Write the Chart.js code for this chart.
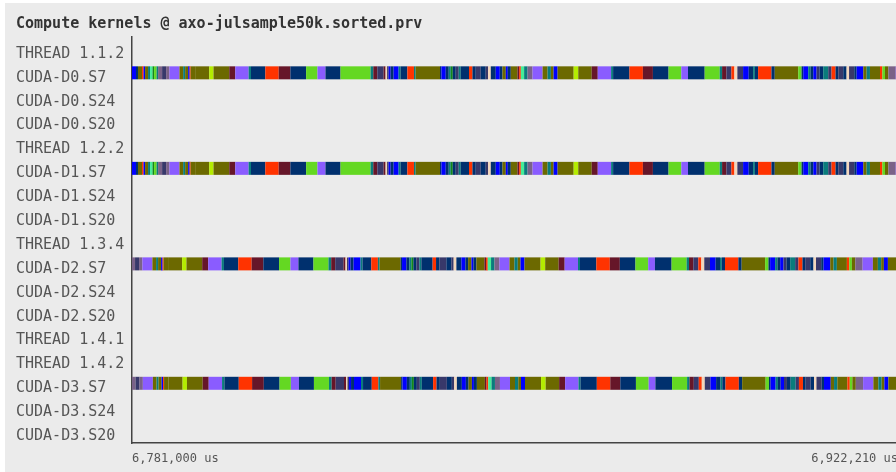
<!DOCTYPE html>
<html>
<head>
<meta charset="utf-8">
<title>Compute kernels timeline</title>
<script src="https://cdn.jsdelivr.net/npm/chart.js@4.4.1/dist/chart.umd.min.js"></script>
<style>
  html, body { margin: 0; padding: 0; overflow: hidden; background: #ffffff; }
  #wrap { width: 898px; height: 472px; }
</style>
</head>
<body>
<div id="wrap"><canvas id="kernelTimeline" width="898" height="472"></canvas></div>
<script>
// rows of the trace window (top to bottom)
const rowLabels = [
  'THREAD 1.1.2', 'CUDA-D0.S7', 'CUDA-D0.S24', 'CUDA-D0.S20',
  'THREAD 1.2.2', 'CUDA-D1.S7', 'CUDA-D1.S24', 'CUDA-D1.S20',
  'THREAD 1.3.4', 'CUDA-D2.S7', 'CUDA-D2.S24', 'CUDA-D2.S20',
  'THREAD 1.4.1', 'THREAD 1.4.2', 'CUDA-D3.S7', 'CUDA-D3.S24', 'CUDA-D3.S20'
];

// visible time window (us)
const timeMin = 6781000;
const timeMax = 6922210;

// kernel executed in each consecutive burst on the S7 streams
const kernelSeq = [
  'B','N','O','R','B','O','T','C','D','G','T','Q','S','Q','P','O','T','O','B','R',
  'O','O','L','O','M','P','T','N','R','M','N','G','P','N','G','T','M','S','M','W',
  'S','B','N','B','T','N','R','T','O','N','B','N','T','D','N','S','T','N','R','N',
  'S','N','S','W','N','B','N','O','B','N','O','M','R','C','T','Q','P','O','T','O',
  'B','O','L','O','M','P','T','N','R','M','N','G','P','N','G','T','M','S','R','W',
  'S','B','N','T','N','R','N','O','G','N','B','T','N','B','S','N','T','S','R','N',
  'S','N','W','S','N','B','O','T','O','R','G','O','Q','P','O','T','O','B','O'
];

// burst durations (us) on devices 0 and 1
const durationsD0 = [
  740, 370, 740, 280, 280, 550, 370, 460, 280, 460, 280, 740, 740, 610, 1850, 680, 370, 550, 280, 180,
  830, 2590, 800, 2900, 1110, 2460, 440, 2640, 2460, 2160, 2900, 2090, 1480, 2770, 5540, 500, 740, 1160, 370, 280,
  280, 370, 550, 920, 370, 1240, 1220, 310, 4490, 260, 800, 550, 370, 370, 550, 550, 370, 1530, 630, 610,
  920, 920, 430, 500, 920, 740, 500, 610, 370, 550, 1240, 300, 310, 610, 630, 920, 1850, 920, 610, 500,
  740, 2960, 850, 2480, 1110, 2460, 370, 3010, 2480, 1850, 2880, 2350, 1240, 3070, 2770, 440, 800, 920, 550, 550,
  1050, 1040, 810, 330, 590, 2460, 610, 4330, 610, 310, 920, 430, 500, 610, 550, 680, 920, 610, 740, 500,
  920, 610, 460, 960, 430, 1240, 610, 610, 1850, 440, 480, 630, 1350, 1890, 920, 610, 500, 740, 2960
];

// burst durations (us) on devices 2 and 3
const durationsD2 = [
  740, 370, 740, 280, 280, 550, 370, 460, 280, 460, 280, 740, 740, 610, 1850, 680, 370, 550, 280, 180,
  830, 2590, 800, 2900, 1110, 2460, 440, 2640, 2460, 2160, 2900, 2090, 1480, 2770, 2770, 500, 740, 1530, 370, 280,
  280, 370, 550, 1290, 370, 1610, 1220, 310, 3880, 260, 800, 550, 370, 370, 550, 550, 370, 2080, 630, 610,
  1290, 920, 430, 500, 920, 740, 500, 610, 370, 550, 1480, 300, 310, 610, 630, 920, 1850, 920, 610, 500,
  740, 2960, 850, 2480, 1110, 2460, 370, 3010, 2480, 1850, 2880, 2350, 1240, 3070, 2770, 440, 800, 920, 550, 550,
  1050, 1040, 810, 330, 590, 2460, 610, 4330, 610, 310, 920, 430, 500, 610, 550, 680, 920, 610, 740, 500,
  920, 610, 460, 960, 430, 1240, 610, 610, 1850, 440, 480, 630, 1350, 1890, 920, 610, 500, 740, 2960
];

// which rows carry bursts, when their first listed burst starts, and its durations
const traceRows = ['CUDA-D0.S7', 'CUDA-D1.S7', 'CUDA-D2.S7', 'CUDA-D3.S7'];
const traceStarts = [6781000, 6781000, 6776010, 6776100];
const traceDurations = [durationsD0, durationsD0, durationsD2, durationsD2];

const kernelColors = {
  B: '#0000ff', N: '#00306e', O: '#6c6900', P: '#8a5cff', R: '#ff3300',
  M: '#661629', G: '#64d822', L: '#b4ec00', T: '#0a7c7c', S: '#38386a',
  W: '#f2d6bc', D: '#12881a', C: '#44ee99', Q: '#7a6288'
};

const monoFont = 'DejaVu Sans Mono';

const datasets = traceRows.map((row, r) => {
  const durs = traceDurations[r];
  const data = [];
  const colors = [];
  let t = traceStarts[r];
  kernelSeq.forEach((k, i) => {
    data.push({ x: [t, t + durs[i]], y: row });
    colors.push(kernelColors[k]);
    t += durs[i];
  });
  return {
    label: row,
    data: data,
    backgroundColor: colors,
    borderWidth: 0,
    grouped: false,
    maxBarThickness: 13
  };
});

// light grey plot frame with a thin white edge top/left
const frameBackground = {
  id: 'frameBackground',
  beforeDraw(chart) {
    const ctx = chart.ctx;
    ctx.save();
    ctx.fillStyle = '#ffffff';
    ctx.fillRect(0, 0, chart.width, chart.height);
    ctx.fillStyle = '#ebebeb';
    ctx.fillRect(5, 3, chart.width - 5, chart.height - 3);
    ctx.restore();
  }
};

new Chart(document.getElementById('kernelTimeline'), {
  type: 'bar',
  data: {
    labels: rowLabels,
    datasets: datasets
  },
  options: {
    indexAxis: 'y',
    responsive: false,
    animation: false,
    layout: { padding: { left: 16, right: 0, top: 0, bottom: 0 } },
    plugins: {
      legend: { display: false },
      tooltip: { enabled: false },
      title: {
        display: true,
        text: 'Compute kernels @ axo-julsample50k.sorted.prv',
        align: 'start',
        color: '#333333',
        font: { family: monoFont, size: 15, weight: 'bold' },
        padding: { top: 15, bottom: 4 }
      }
    },
    scales: {
      x: {
        type: 'linear',
        min: timeMin,
        max: timeMax,
        z: 1,
        // tick marks are hidden with the grid, but their length spaces the labels
        grid: { display: false, drawTicks: true, tickLength: 9 },
        border: { display: true, color: '#444444', width: 1.5 },
        afterBuildTicks: (scale) => {
          scale.ticks = [{ value: timeMin }, { value: timeMax }];
        },
        afterFit: (scale) => { scale.height = 29; },
        ticks: {
          align: 'inner',
          autoSkip: false,
          maxRotation: 0,
          padding: 0,
          color: '#555555',
          font: { family: monoFont, size: 12 },
          callback: (v) => Number(v).toLocaleString('en-US') + ' us'
        }
      },
      y: {
        type: 'category',
        offset: true,
        z: 1,
        grid: { display: false, drawTicks: false },
        border: { display: true, color: '#444444', width: 1.5 },
        afterFit: (scale) => { scale.width = 116; },
        ticks: {
          autoSkip: false,
          crossAlign: 'far',
          labelOffset: 5,
          color: '#555555',
          font: { family: monoFont, size: 15 }
        }
      }
    }
  },
  plugins: [frameBackground]
});
</script>
</body>
</html>
